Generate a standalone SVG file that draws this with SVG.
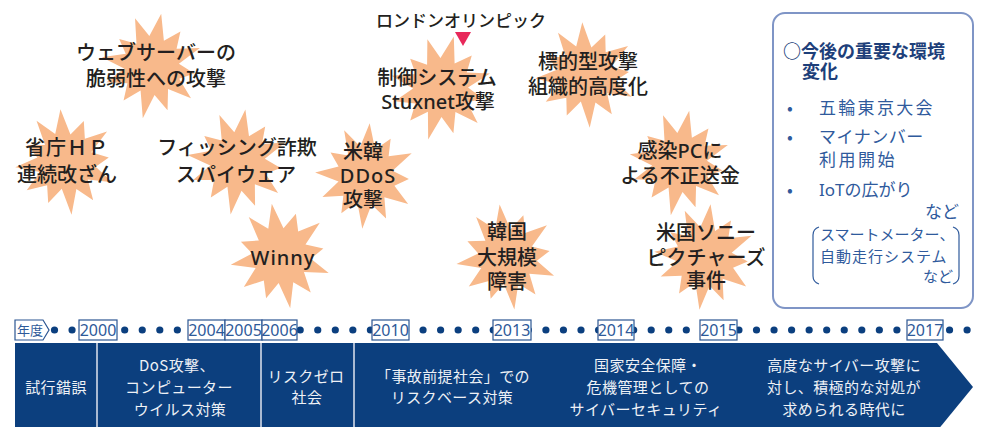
<svg xmlns="http://www.w3.org/2000/svg" xmlns:xlink="http://www.w3.org/1999/xlink" width="981" height="427" viewBox="0 0 981 427">
<style>
.st{fill:#f8b98b}
.t{font-family:"Noto Sans CJK JP","Noto Sans",sans-serif;font-size:20px;font-weight:500;fill:#231f20;text-anchor:middle}
.lat{font-family:"Noto Sans","Noto Sans CJK JP",sans-serif}
.yb{fill:#fff;stroke:#2b5592;stroke-width:1.2}
.yt{font-family:"Noto Sans","Noto Sans CJK JP",sans-serif;font-size:16px;fill:#2e5a99;text-anchor:middle}
.dot{fill:#0b3f7f}
.bt{font-family:"Noto Sans CJK JP",sans-serif;font-size:15px;fill:#eef1f6;text-anchor:middle;letter-spacing:0.4px}
.rb{font-family:"Noto Sans CJK JP",sans-serif;font-size:17px;fill:#2f5a9c}
.rh{font-family:"Noto Sans CJK JP",sans-serif;font-size:18px;font-weight:bold;fill:#1e3f7a}
.rs{font-family:"Noto Sans CJK JP",sans-serif;font-size:15px;fill:#2f5a9c}
</style>
<defs>
<polygon id="star" class="st" points="0,-53 7.3,-27 22,-39 21.2,-21.2 44,-26 26.1,-7 43,0 29,7.8 44,25 19.8,19.8 23,41 7.5,28 0,53 -7,26.1 -22,39 -21.2,21.2 -42,24 -27,7.3 -51,0 -28,-7.5 -37,-21 -19.1,-19.1 -25,-44 -7.8,-29"/>
</defs>
<rect width="981" height="427" fill="#fff"/>

<g id="web">
<use xlink:href="#star" transform="translate(152,66) rotate(10)"/>
<text class="t" x="156" y="60">ウェブサーバーの</text>
<text class="t" x="156" y="86">脆弱性への攻撃</text>
</g>
<g id="shocho">
<use xlink:href="#star" transform="translate(66,162) rotate(-6)"/>
<text class="t" x="67" y="155" letter-spacing="1">省庁ＨＰ</text>
<text class="t" x="67" y="182">連続改ざん</text>
</g>
<g id="phishing">
<use xlink:href="#star" transform="translate(238,162) rotate(8)"/>
<text class="t" x="237" y="155">フィッシング詐欺</text>
<text class="t" x="236" y="182">スパイウェア</text>
</g>
<g id="winny">
<use xlink:href="#star" transform="translate(281,256) rotate(-10)"/>
<text class="t lat" x="283" y="265" letter-spacing="1">Winny</text>
</g>
<g id="ddos">
<use xlink:href="#star" transform="translate(366,176) rotate(4)"/>
<text class="t" x="363" y="159">米韓</text>
<text class="t lat" x="368" y="183" letter-spacing="1">DDoS</text>
<text class="t" x="363" y="207">攻撃</text>
</g>
<g id="olympic">
<text class="t" x="461" y="27" style="font-size:17px">ロンドンオリンピック</text>
<polygon points="455,32 471,32 463,46" fill="#e8285a"/>
</g>
<g id="stuxnet">
<use xlink:href="#star" transform="translate(441,88) rotate(14)"/>
<text class="t" x="437" y="85">制御システム</text>
<text class="t" x="438" y="109"><tspan class="lat">Stuxnet</tspan>攻撃</text>
</g>
<g id="apt">
<use xlink:href="#star" transform="translate(586,75) rotate(-4)"/>
<text class="t" x="588" y="69">標的型攻撃</text>
<text class="t" x="588" y="94">組織的高度化</text>
</g>
<g id="pc">
<use xlink:href="#star" transform="translate(680,163) rotate(10)"/>
<text class="t" x="680" y="158">感染<tspan class="lat">PC</tspan>に</text>
<text class="t" x="680" y="183">よる不正送金</text>
</g>
<g id="korea">
<use xlink:href="#star" transform="translate(507,257) rotate(-8)"/>
<text class="t" x="507" y="239">韓国</text>
<text class="t" x="507" y="265">大規模</text>
<text class="t" x="507" y="289">障害</text>
</g>
<g id="sony">
<use xlink:href="#star" transform="translate(705,257) rotate(6)"/>
<text class="t" x="706" y="240">米国ソニー</text>
<text class="t" x="706" y="265">ピクチャーズ</text>
<text class="t" x="706" y="288">事件</text>
</g>

<g id="future">
<rect x="773" y="13" width="200" height="295" rx="12" fill="#fff" stroke="#7f95c6" stroke-width="2"/>
<text class="rh" x="783" y="58">○今後の重要な環境</text>
<text class="rh" x="802" y="78">変化</text>
<text class="rb" x="787" y="114">•</text>
<text class="rb" x="819" y="114" letter-spacing="2.3">五輪東京大会</text>
<text class="rb" x="787" y="143">•</text>
<text class="rb" x="819" y="143" letter-spacing="0.5">マイナンバー</text>
<text class="rb" x="819" y="166" letter-spacing="2.5">利用開始</text>
<text class="rb" x="787" y="196">•</text>
<text class="rb" x="819" y="196"><tspan font-family="Noto Sans">IoT</tspan>の広がり</text>
<text class="rb" x="959" y="218" text-anchor="end">など</text>
<path d="M819,227 Q813,229 813,235 L813,276 Q813,282 819,284" fill="none" stroke="#2f5a9c" stroke-width="1.2"/>
<path d="M953,227 Q959,229 959,235 L959,276 Q959,282 953,284" fill="none" stroke="#2f5a9c" stroke-width="1.2"/>
<text class="rs" x="820" y="240">スマートメーター、</text>
<text class="rs" x="820" y="262" letter-spacing="1">自動走行システム</text>
<text class="rs" x="953" y="282" text-anchor="end">など</text>
</g>

<g id="timeline">
<g id="dots">
<circle class="dot" cx="54.5" cy="330" r="3.6"/><circle class="dot" cx="72.05" cy="330" r="3.6"/><circle class="dot" cx="89.6" cy="330" r="3.6"/><circle class="dot" cx="107.15" cy="330" r="3.6"/><circle class="dot" cx="124.7" cy="330" r="3.6"/><circle class="dot" cx="142.25" cy="330" r="3.6"/><circle class="dot" cx="159.8" cy="330" r="3.6"/><circle class="dot" cx="177.35" cy="330" r="3.6"/><circle class="dot" cx="194.9" cy="330" r="3.6"/><circle class="dot" cx="212.45" cy="330" r="3.6"/><circle class="dot" cx="230" cy="330" r="3.6"/><circle class="dot" cx="247.55" cy="330" r="3.6"/><circle class="dot" cx="265.1" cy="330" r="3.6"/><circle class="dot" cx="282.65" cy="330" r="3.6"/><circle class="dot" cx="300.2" cy="330" r="3.6"/><circle class="dot" cx="317.75" cy="330" r="3.6"/><circle class="dot" cx="335.3" cy="330" r="3.6"/><circle class="dot" cx="352.85" cy="330" r="3.6"/><circle class="dot" cx="370.4" cy="330" r="3.6"/><circle class="dot" cx="387.95" cy="330" r="3.6"/><circle class="dot" cx="405.5" cy="330" r="3.6"/><circle class="dot" cx="423.05" cy="330" r="3.6"/><circle class="dot" cx="440.6" cy="330" r="3.6"/><circle class="dot" cx="458.15" cy="330" r="3.6"/><circle class="dot" cx="475.7" cy="330" r="3.6"/><circle class="dot" cx="493.25" cy="330" r="3.6"/><circle class="dot" cx="510.8" cy="330" r="3.6"/><circle class="dot" cx="528.35" cy="330" r="3.6"/><circle class="dot" cx="545.9" cy="330" r="3.6"/><circle class="dot" cx="563.45" cy="330" r="3.6"/><circle class="dot" cx="581" cy="330" r="3.6"/><circle class="dot" cx="598.55" cy="330" r="3.6"/><circle class="dot" cx="616.1" cy="330" r="3.6"/><circle class="dot" cx="633.65" cy="330" r="3.6"/><circle class="dot" cx="651.2" cy="330" r="3.6"/><circle class="dot" cx="668.75" cy="330" r="3.6"/><circle class="dot" cx="686.3" cy="330" r="3.6"/><circle class="dot" cx="703.85" cy="330" r="3.6"/><circle class="dot" cx="721.4" cy="330" r="3.6"/><circle class="dot" cx="738.95" cy="330" r="3.6"/><circle class="dot" cx="756.5" cy="330" r="3.6"/><circle class="dot" cx="774.05" cy="330" r="3.6"/><circle class="dot" cx="791.6" cy="330" r="3.6"/><circle class="dot" cx="809.15" cy="330" r="3.6"/><circle class="dot" cx="826.7" cy="330" r="3.6"/><circle class="dot" cx="844.25" cy="330" r="3.6"/><circle class="dot" cx="861.8" cy="330" r="3.6"/><circle class="dot" cx="879.35" cy="330" r="3.6"/><circle class="dot" cx="896.9" cy="330" r="3.6"/><circle class="dot" cx="914.45" cy="330" r="3.6"/><circle class="dot" cx="932" cy="330" r="3.6"/><circle class="dot" cx="949.55" cy="330" r="3.6"/><circle class="dot" cx="967.1" cy="330" r="3.6"/>
</g>
<g id="years">
<polygon class="yb" points="15,320 43,320 49,330 43,340 15,340"/>
<text class="yt" x="30" y="335" style="font-size:13px;font-family:'Noto Sans CJK JP',sans-serif">年度</text>
<rect class="yb" x="79" y="320" width="38" height="20"/><text class="yt" x="98" y="335.5">2000</text>
<rect class="yb" x="188" y="320" width="37" height="20"/><text class="yt" x="206.5" y="335.5">2004</text>
<rect class="yb" x="225" y="320" width="37" height="20"/><text class="yt" x="243.5" y="335.5">2005</text>
<rect class="yb" x="262" y="320" width="35" height="20"/><text class="yt" x="279.5" y="335.5">2006</text>
<rect class="yb" x="372" y="320" width="37" height="20"/><text class="yt" x="390.5" y="335.5">2010</text>
<rect class="yb" x="493" y="320" width="38" height="20"/><text class="yt" x="512" y="335.5">2013</text>
<rect class="yb" x="598" y="320" width="36" height="20"/><text class="yt" x="616" y="335.5">2014</text>
<rect class="yb" x="700" y="320" width="37" height="20"/><text class="yt" x="718.5" y="335.5">2015</text>
<rect class="yb" x="907" y="320" width="36" height="20"/><text class="yt" x="925" y="335.5">2017</text>
</g>
</g>

<g id="eras">
<polygon points="15,343 937,343 973,387 937,431 15,431" fill="#0c3f7e"/>
<g stroke="#dfe5ef" stroke-width="1.5">
<line x1="97" y1="343" x2="97" y2="427"/>
<line x1="261" y1="343" x2="261" y2="427"/>
<line x1="354" y1="343" x2="354" y2="427"/>
</g>
<text class="bt" x="56" y="393" letter-spacing="1.2">試行錯誤</text>
<text class="bt" x="177" y="371">DoS攻撃、</text>
<text class="bt" x="179" y="393">コンピューター</text>
<text class="bt" x="180" y="415">ウイルス対策</text>
<text class="bt" x="306" y="382">リスクゼロ</text>
<text class="bt" x="307" y="403">社会</text>
<text class="bt" x="453" y="382">「事故前提社会」での</text>
<text class="bt" x="452" y="403">リスクベース対策</text>
<text class="bt" x="648" y="371">国家安全保障・</text>
<text class="bt" x="648" y="393">危機管理としての</text>
<text class="bt" x="646" y="415">サイバーセキュリティ</text>
<text class="bt" x="844" y="371">高度なサイバー攻撃に</text>
<text class="bt" x="844" y="393">対し、積極的な対処が</text>
<text class="bt" x="844" y="415">求められる時代に</text>
</g>
</svg>
